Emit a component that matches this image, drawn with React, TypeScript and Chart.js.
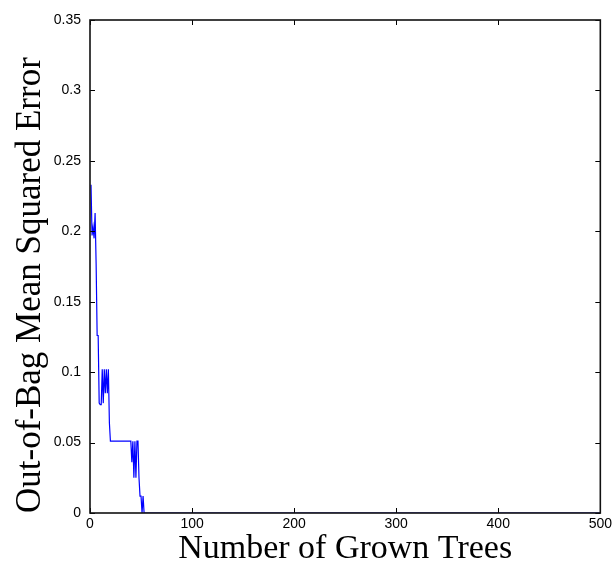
import { useEffect, useRef } from "react";
import { Chart, registerables } from "chart.js";

Chart.register(...registerables);

// Out-of-bag error after each grown tree (the error stays at 0 from tree 53 to 500)
const trees = [
  1, 2, 3, 4, 5, 6, 7, 8, 9, 10,
  11, 12, 13, 14, 15, 16, 17, 18, 19, 20,
  21, 22, 23, 24, 25, 26, 27, 28, 29, 30,
  31, 32, 33, 34, 35, 36, 37, 38, 39, 40,
  41, 42, 43, 44, 45, 46, 47, 48, 49, 50,
  51, 52, 53, 500,
];
const oobError = [
  0.233, 0.197, 0.203, 0.195, 0.213, 0.177, 0.126, 0.126, 0.078, 0.077,
  0.077, 0.102, 0.078, 0.102, 0.085, 0.102, 0.085, 0.102, 0.064, 0.051,
  0.051, 0.051, 0.051, 0.051, 0.051, 0.051, 0.051, 0.051, 0.051, 0.051,
  0.051, 0.051, 0.051, 0.051, 0.051, 0.051, 0.051, 0.051, 0.051, 0.051,
  0.036, 0.051, 0.025, 0.051, 0.025, 0.051, 0.051, 0.025, 0.012, 0.012,
  0, 0.012, 0, 0,
];

const xTicks = [0, 100, 200, 300, 400, 500];
const yTicks = [0, 0.05, 0.1, 0.15, 0.2, 0.25, 0.3, 0.35];

const xTitle = "Number of Grown Trees";
const yTitle = "Out-of-Bag Mean Squared Error";

const TICK_LEN = 5;

// Boxed axes with inward tick marks on all four sides, drawn over the data
const boxPlugin = {
  id: "boxAxes",
  afterDraw(chart: any) {
    const { ctx, chartArea } = chart;
    const { left, right, top, bottom } = chartArea;
    const x = chart.scales.x;
    const y = chart.scales.y;
    ctx.save();
    ctx.strokeStyle = "#000";
    ctx.lineWidth = 1;
    ctx.beginPath();
    for (const v of xTicks) {
      const px = Math.round(x.getPixelForValue(v)) + 0.5;
      ctx.moveTo(px, bottom);
      ctx.lineTo(px, bottom - TICK_LEN);
      ctx.moveTo(px, top);
      ctx.lineTo(px, top + TICK_LEN);
    }
    for (const v of yTicks) {
      const py = Math.round(y.getPixelForValue(v)) + 0.5;
      ctx.moveTo(left, py);
      ctx.lineTo(left + TICK_LEN, py);
      ctx.moveTo(right, py);
      ctx.lineTo(right - TICK_LEN, py);
    }
    ctx.stroke();
    ctx.lineWidth = 1.6;
    ctx.strokeStyle = "#111";
    ctx.strokeRect(left, top, right - left, bottom - top);
    ctx.restore();
  },
};

export default function App() {
  const canvasRef = useRef<HTMLCanvasElement | null>(null);

  useEffect(() => {
    const canvas = canvasRef.current;
    if (!canvas) return;
    const tickFont = { family: "'Liberation Sans', Arial, sans-serif", size: 14 };
    const xTitleFont = { family: "'Liberation Serif', 'Times New Roman', serif", size: 34 };
    const yTitleFont = { family: "'Liberation Serif', 'Times New Roman', serif", size: 35 };

    const chart = new Chart(canvas, {
      type: "line",
      data: {
        datasets: [
          {
            data: trees.map((t, i) => ({ x: t, y: oobError[i] })),
            borderColor: "#0000ff",
            borderWidth: 1.2,
            pointRadius: 0,
            tension: 0,
            fill: false,
          },
        ],
      },
      options: {
        responsive: false,
        animation: false,
        events: [],
        layout: { padding: { left: 0, top: 20, right: 14, bottom: 0 } },
        plugins: {
          legend: { display: false },
          tooltip: { enabled: false },
          title: { display: false },
        },
        scales: {
          x: {
            type: "linear",
            min: 0,
            max: 500,
            grid: { display: false, drawTicks: false },
            border: { display: false },
            afterBuildTicks: (scale: any) => {
              scale.ticks = xTicks.map((v) => ({ value: v }));
            },
            afterFit: (scale: any) => {
              scale.height = 60;
            },
            ticks: {
              color: "#000",
              font: tickFont,
              padding: 3,
              maxRotation: 0,
              callback: (v: any) => String(v),
            },
            title: {
              display: true,
              text: xTitle,
              color: "#000",
              font: xTitleFont,
              padding: { top: 0, bottom: 4 },
            },
          },
          y: {
            type: "linear",
            min: 0,
            max: 0.35,
            grid: { display: false, drawTicks: false },
            border: { display: false },
            afterBuildTicks: (scale: any) => {
              scale.ticks = yTicks.map((v) => ({ value: v }));
            },
            afterFit: (scale: any) => {
              scale.width = 90;
            },
            ticks: {
              color: "#000",
              font: tickFont,
              padding: 9,
              callback: (v: any) => String(v),
            },
            title: {
              display: true,
              text: yTitle,
              color: "#000",
              font: yTitleFont,
              align: "start",
              padding: { top: 10, bottom: 0 },
            },
          },
        },
      },
      plugins: [boxPlugin],
    });

    return () => chart.destroy();
  }, []);

  return (
    <div style={{ position: "absolute", left: 0, top: 0, width: 615, height: 573, background: "#fff" }}>
      <canvas ref={canvasRef} width={615} height={573} style={{ display: "block" }} />
    </div>
  );
}
